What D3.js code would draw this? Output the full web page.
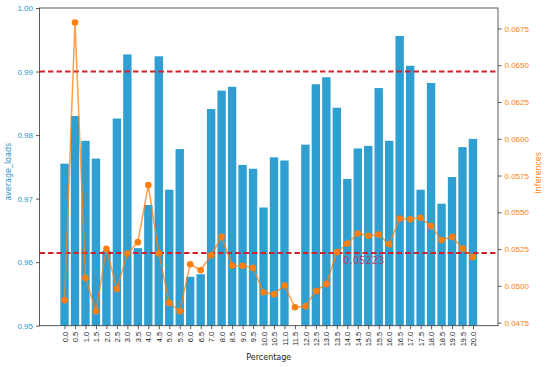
<!DOCTYPE html>
<html>
<head>
<meta charset="utf-8">
<script src="https://cdn.jsdelivr.net/npm/d3@7"></script>
<style>
  body { margin: 0; background: #fff; }
  svg { font-family: "DejaVu Sans", sans-serif; }
</style>
</head>
<body>
<svg id="chart" width="550" height="367"></svg>
<script>
// data
const xLabels = ["0.0","0.5","1.0","1.5","2.0","2.5","3.0","3.5","4.0","4.5",
                 "5.0","5.5","6.0","6.5","7.0","8.0","8.5","9.0","9.5","10.0",
                 "10.5","11.0","11.5","12.0","12.5","13.0","13.5","14.0","14.5","15.0",
                 "15.5","16.0","16.5","17.0","17.5","18.0","18.5","19.0","19.5","20.0"];
const avgLoads = [0.9755, 0.9830, 0.9791, 0.9763, 0.9618, 0.9826, 0.9927, 0.9622, 0.9690, 0.9924,
                  0.9714, 0.9778, 0.9577, 0.9581, 0.9841, 0.9870, 0.9876, 0.9753, 0.9747, 0.9686,
                  0.9765, 0.9760, 0.9480, 0.9785, 0.9880, 0.9891, 0.9843, 0.9731, 0.9779, 0.9783,
                  0.9874, 0.9791, 0.9956, 0.9909, 0.9714, 0.9882, 0.9692, 0.9734, 0.9781, 0.9794];
const inferences = [0.04902, 0.06791, 0.05054, 0.04827, 0.05251, 0.04979, 0.05220, 0.05297, 0.05685, 0.05220,
                    0.04884, 0.04827, 0.05147, 0.05106, 0.05208, 0.05333, 0.05138, 0.05136, 0.05122, 0.04956,
                    0.04943, 0.05002, 0.04854, 0.04861, 0.04965, 0.05013, 0.05229, 0.05288, 0.05356, 0.05340,
                    0.05349, 0.05283, 0.05458, 0.05452, 0.05463, 0.05406, 0.05311, 0.05333, 0.05254, 0.05195];
const leftTicks  = [0.95, 0.96, 0.97, 0.98, 0.99, 1.00];
const rightTicks = [0.0475, 0.0500, 0.0525, 0.0550, 0.0575, 0.0600, 0.0625, 0.0650, 0.0675];
const loadLine   = 0.99;
const infMean    = 0.05223;

// colours
const BAR   = "#2e9fd0",
      ORNG  = "#ff7f0e",
      BLUE  = "#2b93c4",
      RED   = "#d0232e";

const svg = d3.select("#chart");
const P = { l: 39.5, r: 498, t: 8, b: 325.7 };
const n = avgLoads.length;

// matplotlib-like x limits: bars of width .8 plus 5% margin
const lo = -0.4, hi = n - 1 + 0.4, pad = 0.05 * (hi - lo);
const x = d3.scaleLinear().domain([lo - pad, hi + pad]).range([P.l, P.r]);
const yL = d3.scaleLinear().domain([0.95, 1.0]).range([P.b, P.t]);
const ext = d3.extent(inferences), rpad = 0.05 * (ext[1] - ext[0]);
const yR = d3.scaleLinear().domain([ext[0] - rpad, ext[1] + rpad]).range([P.b, P.t]);

svg.append("clipPath").attr("id", "clip")
  .append("rect").attr("x", P.l).attr("y", P.t)
  .attr("width", P.r - P.l).attr("height", P.b - P.t);

const plot = svg.append("g").attr("clip-path", "url(#clip)");

// bars
plot.selectAll("rect.bar")
  .data(avgLoads)
  .join("rect")
    .attr("class", "bar")
    .attr("x", (d, i) => x(i - 0.4))
    .attr("width", x(0.8) - x(0))
    .attr("y", d => yL(d))
    .attr("height", d => Math.max(0, P.b - yL(d)))
    .attr("fill", BAR);

// red dashed lines
plot.append("line")
  .attr("x1", P.l).attr("x2", P.r)
  .attr("y1", yL(loadLine)).attr("y2", yL(loadLine))
  .attr("stroke", RED).attr("stroke-width", 2)
  .attr("stroke-dasharray", "5.5,3");
plot.append("line")
  .attr("x1", P.l).attr("x2", P.r)
  .attr("y1", yR(infMean)).attr("y2", yR(infMean))
  .attr("stroke", RED).attr("stroke-width", 2)
  .attr("stroke-dasharray", "5.5,3");

// inferences line
const line = d3.line().x((d, i) => x(i)).y(d => yR(d));
plot.append("path")
  .datum(inferences)
  .attr("d", line)
  .attr("fill", "none")
  .attr("stroke", ORNG)
  .attr("stroke-opacity", 0.75)
  .attr("stroke-width", 1.5);
plot.selectAll("circle.pt")
  .data(inferences)
  .join("circle")
    .attr("class", "pt")
    .attr("cx", (d, i) => x(i))
    .attr("cy", d => yR(d))
    .attr("r", 3.3)
    .attr("fill", ORNG);

// mean label
svg.append("text")
  .attr("x", x(26.6))
  .attr("y", yR(infMean) + 3)
  .attr("dy", "0.8em")
  .attr("fill", "#c0305a")
  .attr("fill-opacity", 0.85)
  .style("font-size", "10px")
  .text(infMean.toFixed(5));

// frame
svg.append("rect")
  .attr("x", P.l).attr("y", P.t)
  .attr("width", P.r - P.l).attr("height", P.b - P.t)
  .attr("fill", "none").attr("stroke", "#333").attr("stroke-width", 0.8);

// axes
const axL = svg.append("g")
  .attr("transform", `translate(${P.l},0)`)
  .call(d3.axisLeft(yL).tickValues(leftTicks).tickFormat(d3.format(".2f")).tickSize(3.5).tickPadding(3));
axL.selectAll("text").attr("fill", BLUE).style("font-size", "8px");

const axR = svg.append("g")
  .attr("transform", `translate(${P.r},0)`)
  .call(d3.axisRight(yR).tickValues(rightTicks).tickFormat(d3.format(".4f")).tickSize(3.5).tickPadding(3));
axR.selectAll("text").attr("fill", ORNG).style("font-size", "8px");

const axB = svg.append("g")
  .attr("transform", `translate(0,${P.b})`)
  .call(d3.axisBottom(x).tickValues(d3.range(n)).tickFormat(i => xLabels[i]).tickSize(3.5));
axB.selectAll("text")
  .attr("transform", "rotate(-90)")
  .attr("x", -6).attr("y", 0).attr("dy", "0.35em")
  .style("text-anchor", "end")
  .style("font-size", "7.5px")
  .attr("fill", "#222");

[axL, axR, axB].forEach(a => {
  a.select(".domain").remove();
  a.selectAll("line").attr("stroke", "#333").attr("stroke-width", 0.8);
});

// axis titles
svg.append("text")
  .attr("x", (P.l + P.r) / 2).attr("y", 360)
  .attr("text-anchor", "middle")
  .style("font-size", "8px").attr("fill", "#222")
  .text("Percentage");
svg.append("text")
  .attr("transform", `translate(11,${(P.t + P.b) / 2 + 5}) rotate(-90)`)
  .attr("text-anchor", "middle")
  .style("font-size", "8px").attr("fill", BLUE)
  .text("average_loads");
svg.append("text")
  .attr("transform", `translate(541,${(P.t + P.b) / 2 + 6}) rotate(-90)`)
  .attr("text-anchor", "middle")
  .style("font-size", "8px").attr("fill", ORNG)
  .text("inferences");
</script>
</body>
</html>
